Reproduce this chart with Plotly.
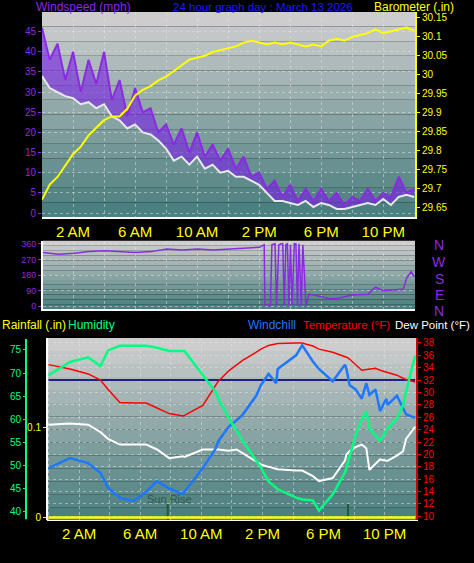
import plotly.graph_objects as go

W, H = 474, 563
def px(x): return x / W
def py(y): return 1 - y / H

# ---------------- data ----------------
hours_half = [i * 0.5 for i in range(49)]
wind_gust = [46,38,42,33,40,30,38,32,40,28,33,24,31,25,26,20,22,17,21,15,20,14,17,13,16,11,14,9,10,6,8,4,7,3,6,3,6,3,5,2,4,3,6,3,5,4,9,5,6]
wind_avg = [34,31,30,29,28.5,27,27.5,26,27,24,23,21,22,20,19.5,18,16,13,14,12,14,11,12,10,10.5,9,9,8,7,5,3,3,2.5,2,3,1.5,2.5,2,1,1,1.5,2,2.5,2,3.5,2,4,4.5,4]
barometer = [29.67,29.71,29.73,29.76,29.79,29.81,29.84,29.86,29.88,29.89,29.89,29.91,29.945,29.96,29.97,29.985,29.995,30.01,30.025,30.04,30.045,30.05,30.06,30.065,30.07,30.075,30.085,30.09,30.085,30.08,30.085,30.08,30.085,30.08,30.075,30.08,30.075,30.09,30.095,30.09,30.1,30.105,30.11,30.12,30.11,30.115,30.12,30.125,30.115]

dir_hours = [0,1,2,3,4,5,6,7,8,9,10,11,12,13,14,14.3,14.35,14.6,14.7,14.8,15.0,15.1,15.25,15.4,15.5,15.6,15.7,15.8,15.9,16.0,16.1,16.25,16.35,16.45,16.55,16.7,16.8,17.0,17.05,17.2,17.5,18,18.5,19,20,21,21.5,22,23,23.3,23.5,23.8,24]
wind_dir = [310,300,305,315,320,315,310,315,330,325,330,325,330,335,340,355,5,10,0,355,360,0,355,360,360,0,355,360,0,355,5,360,360,0,360,0,355,0,20,70,65,55,45,45,65,70,110,90,95,100,160,200,170]

t_hours = [0,1.4,2.6,3.4,3.9,4.67,5.6,6.4,7.1,7.9,8.8,8.9,10.1,10.95,11.1,11.8,12.3,12.7,13.6,13.9,14.4,14.9,15.0,16.2,16.6,17.3,17.7,18.6,19.4,19.5,19.7,20.1,20.5,20.8,21.0,21.4,21.7,22.1,22.2,22.8,23.2,23.4,24]
temperature = [34.5,33.8,33.0,32.0,30.5,28.4,28.3,28.3,27.5,26.6,26.2,26.3,27.9,31.4,31.8,33.5,34.4,35.2,36.5,37.0,37.6,37.8,37.9,38.0,38.0,37.5,37.0,36.5,35.8,35.7,35.4,34.5,33.6,33.7,33.8,33.9,33.6,33.3,33.2,32.8,32.3,32.1,31.7]
humidity = [69.5,72.4,73.4,71.5,74.9,75.9,75.9,75.9,75.5,74.8,74.8,74.8,69.5,65.9,64.5,60.2,57.5,55.3,51.0,49.5,46.5,45.2,44.8,43.0,42.6,42.4,40.2,43.7,48.5,49.5,52.0,56.6,60.0,61.7,58.0,56.5,55.3,57.5,58.0,60.2,63.0,66.0,73.8]
dew_point = [24.8,25.0,24.8,23.6,22.5,21.6,21.6,21.6,20.8,19.4,19.7,19.6,20.8,20.8,20.8,20.6,20.8,20.2,18.8,18.4,18.0,17.6,17.6,17.4,17.4,16.5,15.7,16.2,19.0,20.0,20.5,21.2,21.6,21.0,17.5,18.5,19.2,19.0,19.0,19.8,20.5,22.5,24.5]
windchill = [17.8,19.4,18.6,17.0,14.6,13.0,12.5,14.0,15.7,14.5,13.6,14.0,17.8,21.0,22.1,24.5,25.5,26.4,29.5,31.2,33.0,31.5,33.8,36.0,37.6,35.0,33.8,31.8,34.5,33.8,31.2,30.5,29.0,31.5,29.6,30.5,27.0,29.0,28.0,29.5,27.5,26.5,25.9]
rain_hours = [0, 24]
rainfall = [0, 0]
freezing = [32, 32]
sun_events = [7.8, 19.6]

tickvals = [2, 6, 10, 14, 18, 22]
ticktext = ["2 AM", "6 AM", "10 AM", "2 PM", "6 PM", "10 PM"]

FONT = "Liberation Sans"
fig = go.Figure()

# top
fig.add_trace(go.Scatter(x=hours_half, y=wind_gust, xaxis="x", yaxis="y", mode="lines",
                         line=dict(color="#8a2be2", width=2)))
fig.add_trace(go.Scatter(x=hours_half, y=wind_avg, xaxis="x", yaxis="y", mode="lines", fill="tonexty",
                         fillcolor="rgba(120,30,230,0.6)", line=dict(color="#e8e8f0", width=2)))
fig.add_trace(go.Scatter(x=hours_half, y=barometer, xaxis="x", yaxis="y2", mode="lines",
                         line=dict(color="#ffff00", width=2)))
# middle
fig.add_trace(go.Scatter(x=dir_hours, y=wind_dir, xaxis="x2", yaxis="y3", mode="lines",
                         line=dict(color="#8a2be2", width=1.5)))
# bottom
fig.add_trace(go.Scatter(x=rain_hours, y=rainfall, xaxis="x3", yaxis="y5", mode="lines",
                         line=dict(color="#ffff00", width=2.5)))
fig.add_trace(go.Scatter(x=t_hours, y=humidity, xaxis="x3", yaxis="y4", mode="lines",
                         line=dict(color="#00ff80", width=2.5)))
fig.add_trace(go.Scatter(x=[0, 24], y=freezing, xaxis="x3", yaxis="y6", mode="lines",
                         line=dict(color="#202080", width=2)))
fig.add_trace(go.Scatter(x=t_hours, y=temperature, xaxis="x3", yaxis="y6", mode="lines",
                         line=dict(color="#ff0000", width=1.5)))
fig.add_trace(go.Scatter(x=t_hours, y=dew_point, xaxis="x3", yaxis="y6", mode="lines",
                         line=dict(color="#ffffff", width=2)))
fig.add_trace(go.Scatter(x=t_hours, y=windchill, xaxis="x3", yaxis="y6", mode="lines",
                         line=dict(color="#1e78ff", width=2.5)))
for s in sun_events:
    fig.add_trace(go.Scatter(x=[s, s], y=[9.4, 12], xaxis="x3", yaxis="y6", mode="lines",
                             line=dict(color="#1e5a3c", width=2)))

# background gradients
shapes = []
def grad(x0, x1, y0, y1, n=14):
    top = (205, 205, 205); bot = (75, 128, 128)
    for i in range(n):
        f = i / (n - 1)
        c = tuple(int(top[k] + (bot[k] - top[k]) * f) for k in range(3))
        a = y0 + (y1 - y0) * i / n; b = y0 + (y1 - y0) * (i + 1) / n
        shapes.append(dict(type="rect", xref="paper", yref="paper", layer="below",
                           x0=px(x0), x1=px(x1), y0=py(a), y1=py(b),
                           fillcolor="rgb(%d,%d,%d)" % c, line=dict(width=0)))
grad(42, 415, 10, 217)
grad(43, 415, 241, 310)
grad(47, 416, 339, 523)
shapes.append(dict(type="line", xref="paper", yref="paper", x0=px(26), x1=px(26), y0=py(340), y1=py(522),
                   line=dict(color="#00ff80", width=2)))

ax_common = dict(zeroline=False, ticks="outside", ticklen=3, fixedrange=True)
grid = dict(showgrid=True, gridcolor="rgba(230,230,230,0.5)", griddash="dot", gridwidth=1)
vgrid = dict(minor=dict(dtick=2, tick0=0, showgrid=True, gridcolor="rgba(230,230,230,0.5)", griddash="dot", ticks=""))

fig.update_layout(
    width=W, height=H, margin=dict(l=0, r=0, t=0, b=0),
    paper_bgcolor="black", plot_bgcolor="rgba(0,0,0,0)", showlegend=False,
    font=dict(family=FONT),
    shapes=shapes,
    xaxis=dict(domain=[px(42), px(415)], range=[0, 24.05], anchor="y", tickvals=tickvals, ticktext=ticktext,
               tickfont=dict(family=FONT, size=15, color="#ffff00"), ticks="", showline=True,
               linecolor="white", linewidth=2, showgrid=False, zeroline=False, fixedrange=True, **vgrid),
    yaxis=dict(domain=[py(217), py(10)], range=[-1, 49.9], dtick=5, tickcolor="#8a2be2", showline=False,
               tickfont=dict(family=FONT, size=10, color="#8a2be2"), **ax_common, **grid),
    yaxis2=dict(overlaying="y", side="right", anchor="x", range=[29.624, 30.166], dtick=0.05,
                showgrid=False, showline=True, linecolor="#ffff00", linewidth=2, ticks="outside",
                tickcolor="#ffff00", ticklen=3, tickfont=dict(family=FONT, size=10, color="#ffff00"), fixedrange=True),
    xaxis2=dict(domain=[px(43), px(415)], range=[0, 24.05], anchor="y3", showticklabels=False, ticks="",
                showline=True, linecolor="white", linewidth=2, zeroline=False, fixedrange=True,
                tickvals=[0, 2, 4, 6, 8, 10, 12, 14, 16, 18, 20, 22, 24], **grid),
    yaxis3=dict(domain=[py(310), py(241)], range=[-17, 377], tickvals=[0, 90, 180, 270, 360],
                tickcolor="#8a2be2", showline=True, linecolor="white", linewidth=2, anchor="x2",
                tickfont=dict(family=FONT, size=9, color="#8a2be2"), **ax_common, **grid),
    xaxis3=dict(domain=[px(47), px(416)], range=[-0.1, 24.05], anchor="y6", tickvals=tickvals, ticktext=ticktext,
                tickfont=dict(family=FONT, size=15, color="#ffff00"), ticks="", showline=True,
                linecolor="white", linewidth=1, showgrid=False, zeroline=False, fixedrange=True, **vgrid),
    yaxis4=dict(range=[38.07, 77.6], dtick=5, anchor="free", position=px(26),
                overlaying="y6", side="left", showgrid=False, showline=False, tickcolor="#00ff80",
                tickfont=dict(family=FONT, size=10, color="#00ff80"), **ax_common),
    yaxis5=dict(range=[-0.0033, 0.2], tickvals=[0, 0.1], ticktext=["0", "0.1"], anchor="free", position=px(47),
                overlaying="y6", side="left", showgrid=False, showline=True, linecolor="white", linewidth=2,
                tickcolor="#ffff00", tickfont=dict(family=FONT, size=10, color="#ffff00"), **ax_common),
    yaxis6=dict(domain=[py(523), py(339)], range=[9.36, 38.8], dtick=2, side="right", anchor="x3",
                showline=True, linecolor="#cc0000", linewidth=2, tickcolor="#ff0000",
                tickfont=dict(family=FONT, size=10, color="#ff0000"), **ax_common, **grid),
)

def label(x, y, text, color, size=12, anchor="left"):
    fig.add_annotation(x=px(x), y=py(y), xref="paper", yref="paper", text=text, showarrow=False,
                       xanchor=anchor, yanchor="middle", font=dict(family=FONT, size=size, color=color))

label(34, 5, "Windspeed (mph)", "#8a2be2")
label(171, 5, "24 hour graph day : March 13 2026", "#1a1aff", size=11.5)
label(372, 5, "Barometer (.in)", "#ffff00")
for t, yy in zip(["N", "W", "S", "E", "N"], [245, 262, 279, 296, 312]):
    label(439, yy, t, "#8a2be2", size=14, anchor="center")
label(0, 326, "Rainfall (.in)", "#ffff00")
label(66, 326, "Humidity", "#00ff80")
label(246, 326, "Windchill", "#1e78ff")
label(392, 326, "Temperature (°F)", "#ff0000", size=11.5, anchor="right")
label(393, 326, "Dew Point (°F)", "#ffffff", size=11.5)
label(145, 501, "Sun Rise", "#2a5a4a", size=11)

fig.write_html("out.html", config={"displayModeBar": False},
               post_script="document.body.style.margin='0';document.body.style.background='black';")
